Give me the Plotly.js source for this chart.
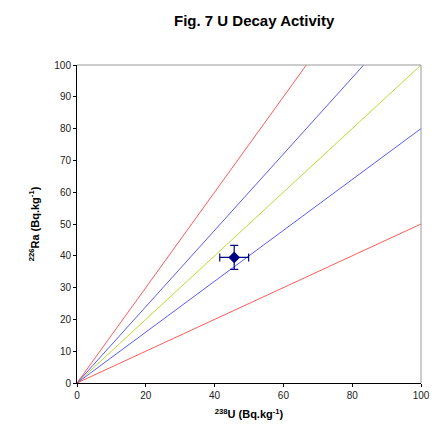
<!DOCTYPE html>
<html><head><meta charset="utf-8">
<script src="https://cdn.plot.ly/plotly-3.0.1.min.js"></script>
<style>html,body{margin:0;padding:0;background:#fff}</style>
</head><body>
<div id="chart" style="width:437px;height:427px"></div>
<script>
// Reference lines: Ra = k * U
const lineX = [0, 100];
const lineSlopes = [1.5, 1.2, 1.0, 0.8, 0.5];
const lineColors = ['#ff3030', '#3030ff', '#a8d000', '#3030ff', '#ff3030'];
// Sample point
const pointU = [45.7];
const pointRa = [39.5];
const pointUerr = [4.2];
const pointRaerr = [3.8];

const traces = lineSlopes.map((k, i) => ({
  x: lineX, y: lineX.map(v => v * k), mode: 'lines', type: 'scatter',
  line: {color: lineColors[i], width: 0.8}, hoverinfo: 'none', showlegend: false
}));
traces.push({
  x: pointU, y: pointRa, mode: 'markers', type: 'scatter',
  marker: {symbol: 'diamond', size: 9, color: '#000080'},
  error_x: {type: 'data', array: pointUerr, color: '#000080', thickness: 1.2, width: 4},
  error_y: {type: 'data', array: pointRaerr, color: '#000080', thickness: 1.2, width: 4},
  showlegend: false
});

const layout = {
  width: 437, height: 427,
  margin: {l: 77, r: 16, t: 65, b: 44},
  paper_bgcolor: '#fff', plot_bgcolor: '#fff',
  font: {family: 'Liberation Sans, Arial, sans-serif', size: 10, color: '#222'},
  title: {text: 'Fig. 7 U Decay Activity', font: {size: 15, color: '#000', weight: 'bold'},
          x: 0.515, xref: 'paper', y: 0.963, yref: 'container', xanchor: 'center'},
  xaxis: {range: [0, 100], tickvals: [0,20,40,60,80,100], showgrid: false, zeroline: false,
          showline: true, linecolor: '#000', linewidth: 1, ticks: 'outside', ticklen: 3, tickcolor: '#000',
          mirror: false,
          title: {text: '<b><sup>238</sup>U (Bq.kg<sup>-1</sup>)</b>', font: {size: 11, color: '#000'}, standoff: 10}},
  yaxis: {range: [0, 100], tickvals: [0,10,20,30,40,50,60,70,80,90,100], showgrid: false, zeroline: false,
          showline: true, linecolor: '#000', linewidth: 1, ticks: 'outside', ticklen: 3, tickcolor: '#000',
          title: {text: '<b><sup>226</sup>Ra (Bq.kg<sup>-1</sup>)</b>', font: {size: 11, color: '#000'}, standoff: 12}},
  shapes: [
    {type: 'line', xref: 'paper', yref: 'paper', x0: 0, x1: 1, y0: 1, y1: 1, line: {color: '#999', width: 1}},
    {type: 'line', xref: 'paper', yref: 'paper', x0: 1, x1: 1, y0: 0, y1: 1, line: {color: '#999', width: 1}}
  ]
};
Plotly.newPlot('chart', traces, layout, {displayModeBar: false, staticPlot: true});
</script>
</body></html>
